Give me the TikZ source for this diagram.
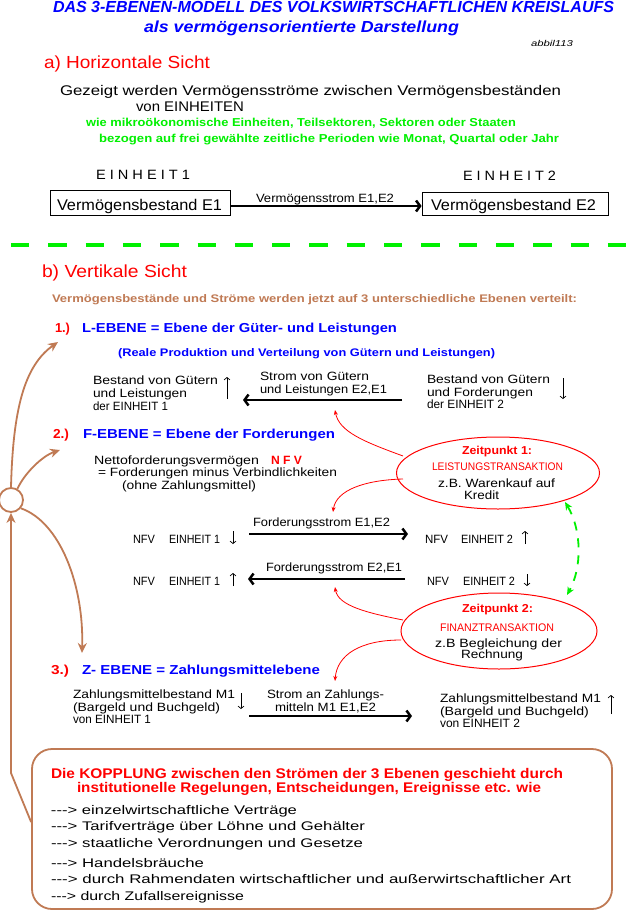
\documentclass[tikz,border=0pt]{standalone}
\usepackage{fontspec}
\usepackage{graphicx}
\setmainfont{Liberation Sans}
\usetikzlibrary{arrows.meta,shapes.geometric,calc}
\definecolor{tblue}{RGB}{0,0,255}
\definecolor{tred}{RGB}{255,0,0}
\definecolor{tgreen}{RGB}{0,240,0}
\definecolor{tbrown}{RGB}{192,122,84}
\newcommand{\fw}[2]{\resizebox{#1pt}{\height}{#2}}
\newcommand{\fsz}[1]{\fontsize{#1}{#1}\selectfont}
\newcommand{\tx}[6]{\node[txt,#5] (#1) at (#2,#3) {\fw{#4}{#6}};}
\begin{document}
\begin{tikzpicture}[x=1pt,y=-1pt,
  txt/.style={anchor=base west,inner sep=0pt,outer sep=0pt},
  titlef/.style={font=\fsz{16}\bfseries\itshape,text=tblue},
  smallit/.style={font=\fsz{8.5}\itshape},
  secf/.style={font=\fsz{17.5},text=tred},
  bodyf/.style={font=\fsz{14}},
  greenf/.style={font=\fsz{11.5}\bfseries,text=tgreen},
  einf/.style={font=\fsz{13.5}},
  boxf/.style={font=\fsz{15.5}},
  smf/.style={font=\fsz{12}},
  brownf/.style={font=\fsz{11}\bfseries,text=tbrown},
  numf/.style={font=\fsz{13}\bfseries,text=tred},
  levf/.style={font=\fsz{13}\bfseries,text=tblue},
  subf/.style={font=\fsz{11}\bfseries,text=tblue},
  nfvf/.style={font=\fsz{12}\bfseries,text=tred},
  zpf/.style={font=\fsz{11.5}\bfseries,text=tred},
  ztf/.style={font=\fsz{11},text=tred},
  kopf/.style={font=\fsz{14}\bfseries,text=tred},
  listf/.style={font=\fsz{12.5}},
  bigarrow/.style={line width=2.5pt,-{Straight Barb[length=4pt,width=11pt]}},
  smallarrow/.style={line width=0.7pt,-{Straight Barb[length=2.5pt,width=6pt]}},
  redcurve/.style={draw=tred,line width=0.8pt,-{Stealth[length=5pt,width=4pt]}},
  browncurve/.style={draw=tbrown,line width=1.8pt,-{Stealth[length=10pt,width=9pt]}},
  ell/.style={draw=tred,line width=1pt,ellipse,inner sep=0pt}
]
\fill[white] (0,0) rectangle (635,911);
\useasboundingbox (0,0) rectangle (635,911);

% Title
\tx{t1}{53}{12.5}{561}{titlef}{DAS 3-EBENEN-MODELL DES VOLKSWIRTSCHAFTLICHEN KREISLAUFS}
\tx{t2}{144}{32.5}{315}{titlef}{als vermögensorientierte Darstellung}
\tx{abb}{531}{46}{42}{smallit}{abbil113}

% a) Horizontal
\tx{ha}{44}{68}{166}{secf}{a) Horizontale Sicht}
\tx{g1}{60}{95}{501}{bodyf}{Gezeigt werden Vermögensströme zwischen Vermögensbeständen}
\tx{g2}{136}{111}{108}{bodyf}{von  EINHEITEN}
\tx{gr1}{86}{126}{430}{greenf}{wie mikroökonomische Einheiten, Teilsektoren, Sektoren oder Staaten}
\tx{gr2}{99}{142}{460}{greenf}{bezogen auf frei gewählte zeitliche Perioden wie Monat, Quartal oder Jahr}
\tx{e1}{96}{179}{94}{einf}{E I N H E I T 1}
\tx{e2}{463}{180}{93}{einf}{E I N H E I T 2}
\node[draw,line width=0.8pt,minimum width=180pt,minimum height=25pt,inner sep=0pt] (b1) at (140,202.5) {};
\node[draw,line width=0.8pt,minimum width=186pt,minimum height=23pt,inner sep=0pt] (b2) at (515,203.5) {};
\tx{b1t}{57}{210}{165}{boxf}{Vermögensbestand E1}
\tx{b2t}{431}{210}{165}{boxf}{Vermögensbestand E2}
\tx{vs}{256}{202}{138}{smf}{Vermögensstrom E1,E2}
\draw[bigarrow] ([yshift=-3.5pt]b1.east) -- ([yshift=-2.5pt]b2.west);

% dashed separator
\coordinate (dl) at (11,245);
\coordinate (dr) at (626,245);
\draw[tgreen,line width=4pt,dash pattern=on 18.3pt off 19pt] (dl) -- (dr);

% b) Vertical
\tx{hb}{42}{277}{145}{secf}{b) Vertikale Sicht}
\tx{br}{52}{302}{525}{brownf}{Vermögensbestände und Ströme werden  jetzt auf 3 unterschiedliche Ebenen verteilt:}

% L level
\tx{n1}{55}{332}{15}{numf}{1.)}
\tx{l1}{82}{332}{315}{levf}{L-EBENE = Ebene der Güter- und Leistungen}
\tx{l1s}{118}{356}{377}{subf}{(Reale Produktion und Verteilung von Gütern und Leistungen)}
\tx{lb1}{93}{384}{125}{smf}{Bestand von Gütern}
\tx{lb2}{93}{397}{94}{smf}{und Leistungen}
\tx{lb3}{93}{410}{75}{smf}{der EINHEIT 1}
\tx{lm1}{260}{380}{109}{smf}{Strom von Gütern}
\tx{lm2}{260}{393}{127}{smf}{und Leistungen E2,E1}
\tx{lr1}{427}{383}{123}{smf}{Bestand von Gütern}
\tx{lr2}{427}{396}{106}{smf}{und Forderungen}
\tx{lr3}{427}{408}{77}{smf}{der EINHEIT 2}
\coordinate (la1) at (402,400);
\coordinate (la2) at (243,400);
\draw[bigarrow] (la1) -- (la2);
\coordinate (lu1) at (227,399); \coordinate (lu2) at (227,377);
\draw[smallarrow] (lu1) -- (lu2);
\coordinate (ld1) at (563,378); \coordinate (ld2) at (563,399);
\draw[smallarrow] (ld1) -- (ld2);

% F level
\tx{n2}{53}{438}{16}{numf}{2.)}
\tx{l2}{83}{438}{252}{levf}{F-EBENE = Ebene der Forderungen}
\tx{nf1}{94}{464}{165}{smf}{Nettoforderungsvermögen}
\tx{nfv}{271}{464}{31}{nfvf}{N F V}
\tx{nf2}{98}{476}{239}{smf}{= Forderungen minus Verbindlichkeiten}
\tx{nf3}{122}{489}{134}{smf}{(ohne Zahlungsmittel)}

\tx{r1a}{133}{543}{22}{smf}{NFV}
\tx{r1b}{169}{543}{51}{smf}{EINHEIT 1}
\tx{r1c}{425}{543}{23}{smf}{NFV}
\tx{r1d}{461}{543}{52}{smf}{EINHEIT 2}
\tx{r2a}{133}{585}{22}{smf}{NFV}
\tx{r2b}{169}{585}{51}{smf}{EINHEIT 1}
\tx{r2c}{427}{585}{22}{smf}{NFV}
\tx{r2d}{463}{585}{52}{smf}{EINHEIT 2}
\tx{f1}{253}{526}{137}{smf}{Forderungsstrom E1,E2}
\tx{f2}{266}{571}{136}{smf}{Forderungsstrom E2,E1}
\coordinate (fa1) at (249,534); \coordinate (fa2) at (408,534);
\draw[bigarrow] (fa1) -- (fa2);
\coordinate (fb1) at (405,579); \coordinate (fb2) at (248,579);
\draw[bigarrow] (fb1) -- (fb2);
\coordinate (s1a) at (233,531); \coordinate (s1b) at (233,544);
\draw[smallarrow] (s1a) -- (s1b);
\coordinate (s2a) at (525,544); \coordinate (s2b) at (525,531);
\draw[smallarrow] (s2a) -- (s2b);
\coordinate (s3a) at (233,586); \coordinate (s3b) at (233,573);
\draw[smallarrow] (s3a) -- (s3b);
\coordinate (s4a) at (527,574); \coordinate (s4b) at (527,586);
\draw[smallarrow] (s4a) -- (s4b);

% ellipses
\node[ell,minimum width=203pt,minimum height=72pt] (z1) at (498,473) {};
\tx{z1a}{462}{454}{70}{zpf}{Zeitpunkt 1:}
\tx{z1b}{432}{470}{131}{ztf}{LEISTUNGSTRANSAKTION}
\tx{z1c}{438}{487}{117}{smf}{z.B. Warenkauf auf}
\tx{z1d}{464}{499}{35}{smf}{Kredit}
\node[ell,minimum width=196pt,minimum height=76pt] (z2) at (499,631) {};
\tx{z2a}{462}{612}{71}{zpf}{Zeitpunkt 2:}
\tx{z2b}{440}{631}{114}{ztf}{FINANZTRANSAKTION}
\tx{z2c}{435}{647}{127}{smf}{z.B  Begleichung der}
\tx{z2d}{461}{658}{62}{smf}{Rechnung}

% red curves
\coordinate (c1s) at (403,456); \coordinate (c1e) at (335,410);
\draw[redcurve] (c1s) .. controls (365,442) and (339,432) .. (c1e);
\coordinate (c2s) at (403,479); \coordinate (c2e) at (333,512);
\draw[redcurve] (c2s) .. controls (365,480) and (336,490) .. (c2e);
\coordinate (c3s) at (403,620); \coordinate (c3e) at (335,587);
\draw[redcurve] (c3s) .. controls (368,613) and (338,606) .. (c3e);
\coordinate (c4s) at (401,640); \coordinate (c4e) at (335,681);
\draw[redcurve] (c4s) .. controls (360,640) and (337,655) .. (c4e);

% green dashed double arrow
\coordinate (gd1) at (565,502); \coordinate (gd2) at (567,595);
\draw[tgreen,line width=1.8pt,dash pattern=on 9pt off 8pt,{Stealth[length=8pt,width=7pt]}-{Stealth[length=8pt,width=7pt]}]
  (gd1) .. controls (582,530) and (582,568) .. (gd2);

% Z level
\tx{n3}{51}{674}{18}{numf}{3.)}
\tx{l3}{82}{674}{238}{levf}{Z- EBENE = Zahlungsmittelebene}
\tx{zl1}{73}{698}{162}{smf}{Zahlungsmittelbestand M1}
\tx{zl2}{73}{711}{147}{smf}{(Bargeld und Buchgeld)}
\tx{zl3}{73}{723}{78}{smf}{von EINHEIT 1}
\tx{zm1}{267}{698}{117}{smf}{Strom an Zahlungs-}
\tx{zm2}{275}{711}{101}{smf}{mitteln M1  E1,E2}
\tx{zr1}{440}{702}{161}{smf}{Zahlungsmittelbestand M1}
\tx{zr2}{440}{715}{149}{smf}{(Bargeld und Buchgeld)}
\tx{zr3}{440}{727}{80}{smf}{von EINHEIT 2}
\coordinate (za1) at (249,716); \coordinate (za2) at (412,716);
\draw[bigarrow] (za1) -- (za2);
\coordinate (zd1) at (241,693); \coordinate (zd2) at (241,709);
\draw[smallarrow] (zd1) -- (zd2);
\coordinate (zu1) at (611,714); \coordinate (zu2) at (611,695);
\draw[smallarrow] (zu1) -- (zu2);

% bottom box
\node[draw=tbrown,line width=1.8pt,rounded corners=20pt,minimum width=580pt,minimum height=160pt,inner sep=0pt] (kb) at (322,829) {};
\tx{k1}{51}{778}{512}{kopf}{Die KOPPLUNG  zwischen den Strömen der 3 Ebenen geschieht durch}
\tx{k2}{77}{792}{464}{kopf}{institutionelle Regelungen, Entscheidungen, Ereignisse etc. wie}
\tx{i1}{51}{814}{246}{listf}{-{}-{}-> einzelwirtschaftliche Verträge}
\tx{i2}{51}{830}{314}{listf}{-{}-{}-> Tarifverträge über Löhne und Gehälter}
\tx{i3}{51}{847}{312}{listf}{-{}-{}-> staatliche Verordnungen und Gesetze}
\tx{i4}{51}{867}{153}{listf}{-{}-{}-> Handelsbräuche}
\tx{i5}{51}{883}{520}{listf}{-{}-{}-> durch Rahmendaten wirtschaftlicher und außerwirtschaftlicher Art}
\tx{i6}{51}{900}{193}{listf}{-{}-{}-> durch Zufallsereignisse}

% brown coupling circle and curves
\node[draw=tbrown,line width=1.8pt,circle,minimum size=24pt,inner sep=0pt] (circ) at (11,500) {};
\coordinate (bend) at (11,773);
\draw[browncurve] ([yshift=7pt]kb.west) -- (bend) -- (circ.south);
\coordinate (tipA) at (58,342);
\draw[browncurve] (circ.north) .. controls (13,410) and (24,366) .. (tipA);
\coordinate (tipB) at (60,450);
\draw[browncurve] (circ.60) .. controls (24,474) and (42,456) .. (tipB);
\coordinate (tipC) at (82,653);
\draw[browncurve] (circ.-40) .. controls (60,522) and (84,585) .. (tipC);
\end{tikzpicture}
\end{document}
